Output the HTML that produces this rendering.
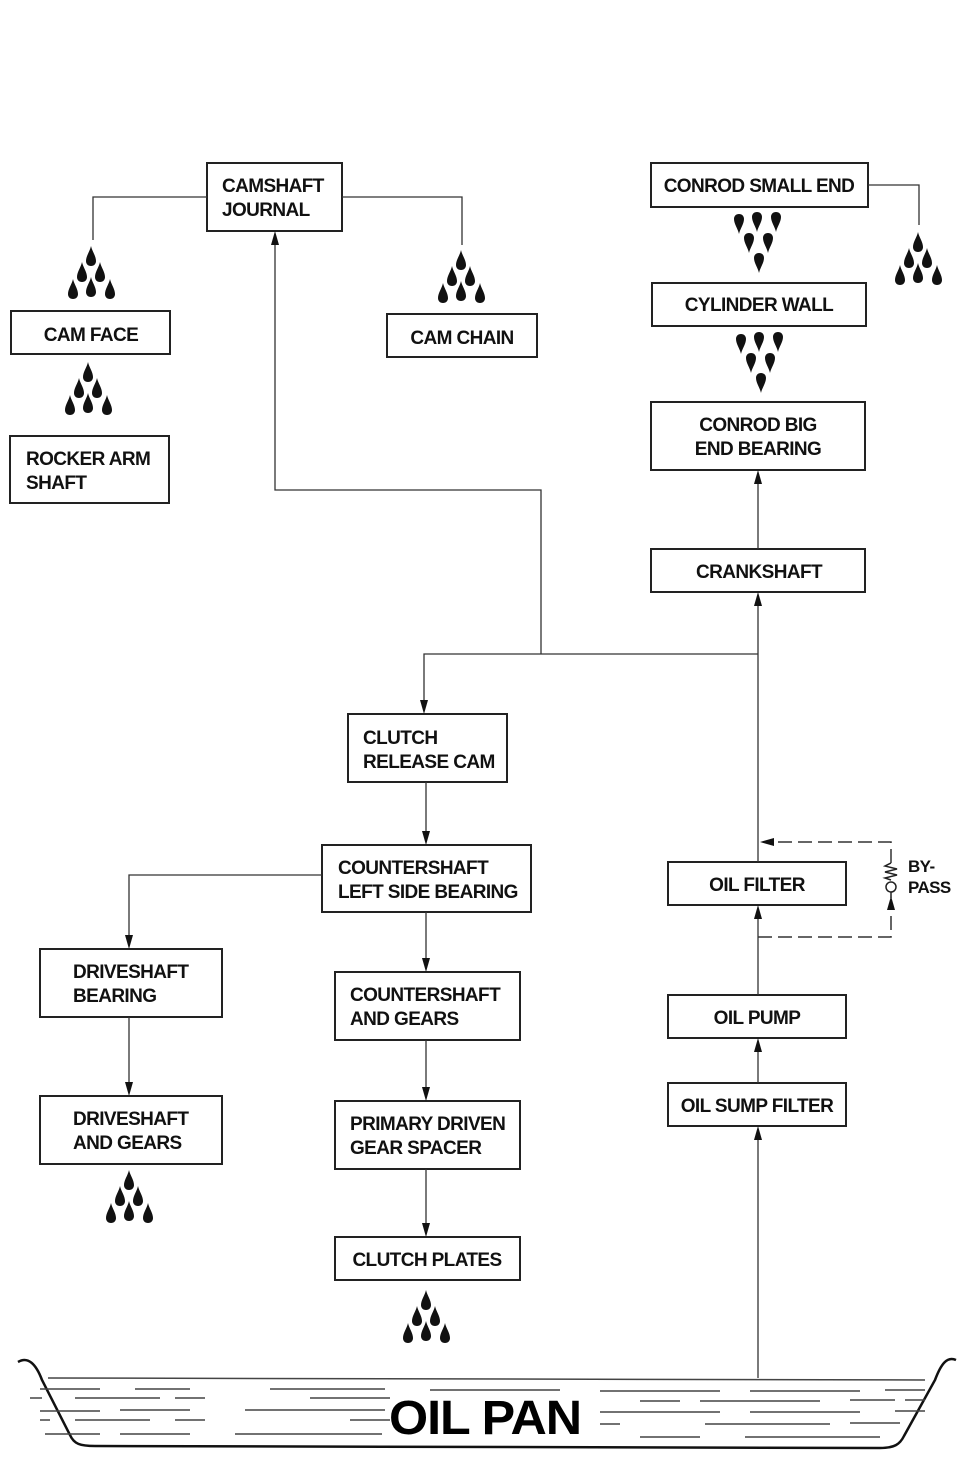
<!DOCTYPE html>
<html><head><meta charset="utf-8"><style>
html,body{margin:0;padding:0;background:#fff;}
svg{display:block}
text{font-family:"Liberation Sans",Arial,sans-serif;font-weight:bold;font-size:19px;fill:#111;letter-spacing:-0.6px}
</style></head><body>
<svg width="972" height="1467" viewBox="0 0 972 1467" xmlns="http://www.w3.org/2000/svg">
<defs>
<path id="up" d="M0,-10 C1,-5 5,0 5,5 C5,8 3,10 0,10 C-3,10 -5,8 -5,5 C-5,0 -1,-5 0,-10Z" fill="#111"/>
<path id="dn" d="M0,10 C1,5 5,0 5,-5 C5,-8 3,-10 0,-10 C-3,-10 -5,-8 -5,-5 C-5,0 -1,5 0,10Z" fill="#111"/>
<g id="pyr">
<use href="#up" x="0" y="10"/>
<use href="#up" x="-9" y="26"/>
<use href="#up" x="9" y="26"/>
<use href="#up" x="-18" y="43"/>
<use href="#up" x="0" y="41"/>
<use href="#up" x="19" y="43"/>
</g>
<g id="vee">
<use href="#dn" x="-21" y="8"/>
<use href="#dn" x="-3" y="6"/>
<use href="#dn" x="16" y="6"/>
<use href="#dn" x="-11" y="27"/>
<use href="#dn" x="8" y="27"/>
<use href="#dn" x="-1" y="47"/>
</g>
</defs>

<g fill="none" stroke="#222" stroke-width="2">
<rect x="207" y="163" width="135" height="68"/>
<rect x="651" y="163" width="217" height="44"/>
<rect x="11" y="311" width="159" height="43"/>
<rect x="387" y="314" width="150" height="43"/>
<rect x="652" y="283" width="214" height="43"/>
<rect x="10" y="436" width="159" height="67"/>
<rect x="651" y="402" width="214" height="68"/>
<rect x="651" y="549" width="214" height="43"/>
<rect x="348" y="714" width="159" height="68"/>
<rect x="322" y="845" width="209" height="67"/>
<rect x="668" y="862" width="178" height="43"/>
<rect x="40" y="949" width="182" height="68"/>
<rect x="335" y="972" width="185" height="68"/>
<rect x="668" y="995" width="178" height="43"/>
<rect x="668" y="1083" width="178" height="43"/>
<rect x="40" y="1096" width="182" height="68"/>
<rect x="335" y="1101" width="185" height="68"/>
<rect x="335" y="1237" width="185" height="43"/>
</g>

<g fill="none" stroke="#333" stroke-width="1.3">
<polyline points="207,197 93,197 93,240"/>
<polyline points="342,197 462,197 462,245"/>
<polyline points="868,185 919,185 919,225"/>
<polyline points="275,240 275,490 541,490 541,654"/>
<polyline points="424,705 424,654 758,654"/>
<line x1="758" y1="600" x2="758" y2="862"/>
<line x1="758" y1="478" x2="758" y2="549"/>
<line x1="426" y1="782" x2="426" y2="836"/>
<polyline points="322,875 129,875 129,940"/>
<line x1="426" y1="912" x2="426" y2="963"/>
<line x1="426" y1="1040" x2="426" y2="1092"/>
<line x1="426" y1="1169" x2="426" y2="1228"/>
<line x1="129" y1="1017" x2="129" y2="1087"/>
<line x1="758" y1="1134" x2="758" y2="1378"/>
<line x1="758" y1="1046" x2="758" y2="1083"/>
<line x1="758" y1="913" x2="758" y2="995"/>
</g>
<g stroke="#333" stroke-width="1.5" fill="none" stroke-dasharray="14,6">
<polyline points="758,937 891,937 891,905"/>
<polyline points="891,863 891,842 770,842"/>
</g>
<g fill="none" stroke="#222" stroke-width="1.5">
<polyline points="891,863 885,866 897,869 885,872 897,875 885,878 891,880"/>
<circle cx="891" cy="887" r="5"/>
<line x1="891" y1="892" x2="891" y2="898"/>
</g>
<g fill="#111">
<path d="M275,231 l-4,14 l8,0z"/>
<path d="M758,470 l-4,14 l8,0z"/>
<path d="M758,592 l-4,14 l8,0z"/>
<path d="M758,905 l-4,14 l8,0z"/>
<path d="M758,1038 l-4,14 l8,0z"/>
<path d="M758,1126 l-4,14 l8,0z"/>
<path d="M891,896 l-4,14 l8,0z"/>
<path d="M760,842 l14,-4 l0,8z"/>
<path d="M424,714 l-4,-14 l8,0z"/>
<path d="M426,845 l-4,-14 l8,0z"/>
<path d="M426,972 l-4,-14 l8,0z"/>
<path d="M426,1101 l-4,-14 l8,0z"/>
<path d="M426,1237 l-4,-14 l8,0z"/>
<path d="M129,949 l-4,-14 l8,0z"/>
<path d="M129,1096 l-4,-14 l8,0z"/>
</g>

<use href="#pyr" x="91" y="246"/>
<use href="#pyr" x="461" y="250"/>
<use href="#pyr" x="88" y="362"/>
<use href="#pyr" x="918" y="232"/>
<use href="#pyr" x="129" y="1170"/>
<use href="#pyr" x="426" y="1290"/>
<use href="#vee" x="760" y="216"/>
<use href="#vee" x="762" y="336"/>

<text x="222" y="192">CAMSHAFT</text>
<text x="222" y="216">JOURNAL</text>
<text x="759" y="192" text-anchor="middle">CONROD SMALL END</text>
<text x="91" y="341" text-anchor="middle">CAM FACE</text>
<text x="462" y="344" text-anchor="middle">CAM CHAIN</text>
<text x="759" y="311" text-anchor="middle">CYLINDER WALL</text>
<text x="26" y="465">ROCKER ARM</text>
<text x="26" y="489">SHAFT</text>
<text x="758" y="431" text-anchor="middle">CONROD BIG</text>
<text x="758" y="455" text-anchor="middle">END BEARING</text>
<text x="759" y="578" text-anchor="middle">CRANKSHAFT</text>
<text x="363" y="744">CLUTCH</text>
<text x="363" y="768">RELEASE CAM</text>
<text x="338" y="874">COUNTERSHAFT</text>
<text x="338" y="898">LEFT SIDE BEARING</text>
<text x="757" y="891" text-anchor="middle">OIL FILTER</text>
<text x="908" y="872" style="font-size:17px">BY-</text>
<text x="908" y="893" style="font-size:17px">PASS</text>
<text x="73" y="978">DRIVESHAFT</text>
<text x="73" y="1002">BEARING</text>
<text x="350" y="1001">COUNTERSHAFT</text>
<text x="350" y="1025">AND GEARS</text>
<text x="757" y="1024" text-anchor="middle">OIL PUMP</text>
<text x="757" y="1112" text-anchor="middle">OIL SUMP FILTER</text>
<text x="73" y="1125">DRIVESHAFT</text>
<text x="73" y="1149">AND GEARS</text>
<text x="350" y="1130">PRIMARY DRIVEN</text>
<text x="350" y="1154">GEAR SPACER</text>
<text x="427" y="1266" text-anchor="middle">CLUTCH PLATES</text>

<path d="M18,1362 C28,1356 36,1364 42,1380 L70,1435 C74,1444 80,1446 95,1446 L880,1448 C895,1448 900,1444 904,1436 L935,1380 C941,1364 947,1356 956,1360" fill="none" stroke="#111" stroke-width="2.5"/>
<g stroke="#444" stroke-width="1.5">
<line x1="48" y1="1378" x2="925" y2="1380"/>
<line x1="40" y1="1389" x2="100" y2="1389"/><line x1="135" y1="1389" x2="190" y2="1389"/><line x1="270" y1="1389" x2="385" y2="1389"/>
<line x1="430" y1="1390" x2="560" y2="1390"/><line x1="600" y1="1391" x2="720" y2="1391"/><line x1="750" y1="1391" x2="860" y2="1391"/><line x1="885" y1="1390" x2="925" y2="1390"/>
<line x1="30" y1="1398" x2="42" y2="1398"/><line x1="75" y1="1398" x2="160" y2="1398"/><line x1="175" y1="1398" x2="205" y2="1398"/><line x1="310" y1="1398" x2="390" y2="1398"/>
<line x1="640" y1="1401" x2="680" y2="1401"/><line x1="700" y1="1401" x2="820" y2="1401"/><line x1="850" y1="1400" x2="895" y2="1400"/><line x1="905" y1="1400" x2="925" y2="1400"/>
<line x1="40" y1="1411" x2="100" y2="1411"/><line x1="120" y1="1410" x2="190" y2="1410"/><line x1="245" y1="1410" x2="385" y2="1410"/>
<line x1="600" y1="1412" x2="720" y2="1412"/><line x1="750" y1="1412" x2="860" y2="1412"/><line x1="895" y1="1411" x2="925" y2="1411"/>
<line x1="40" y1="1420" x2="50" y2="1420"/><line x1="75" y1="1420" x2="150" y2="1420"/><line x1="175" y1="1420" x2="205" y2="1420"/><line x1="350" y1="1420" x2="390" y2="1420"/>
<line x1="600" y1="1424" x2="620" y2="1424"/><line x1="705" y1="1424" x2="830" y2="1424"/><line x1="850" y1="1423" x2="900" y2="1423"/>
<line x1="45" y1="1434" x2="100" y2="1434"/><line x1="120" y1="1434" x2="190" y2="1434"/><line x1="235" y1="1434" x2="382" y2="1434"/>
<line x1="640" y1="1437" x2="700" y2="1437"/><line x1="745" y1="1437" x2="880" y2="1437"/>
</g>
<text x="485" y="1434" text-anchor="middle" style="font-size:48px;letter-spacing:-1px;fill:#000" textLength="192" lengthAdjust="spacingAndGlyphs">OIL PAN</text>
</svg>
</body></html>
